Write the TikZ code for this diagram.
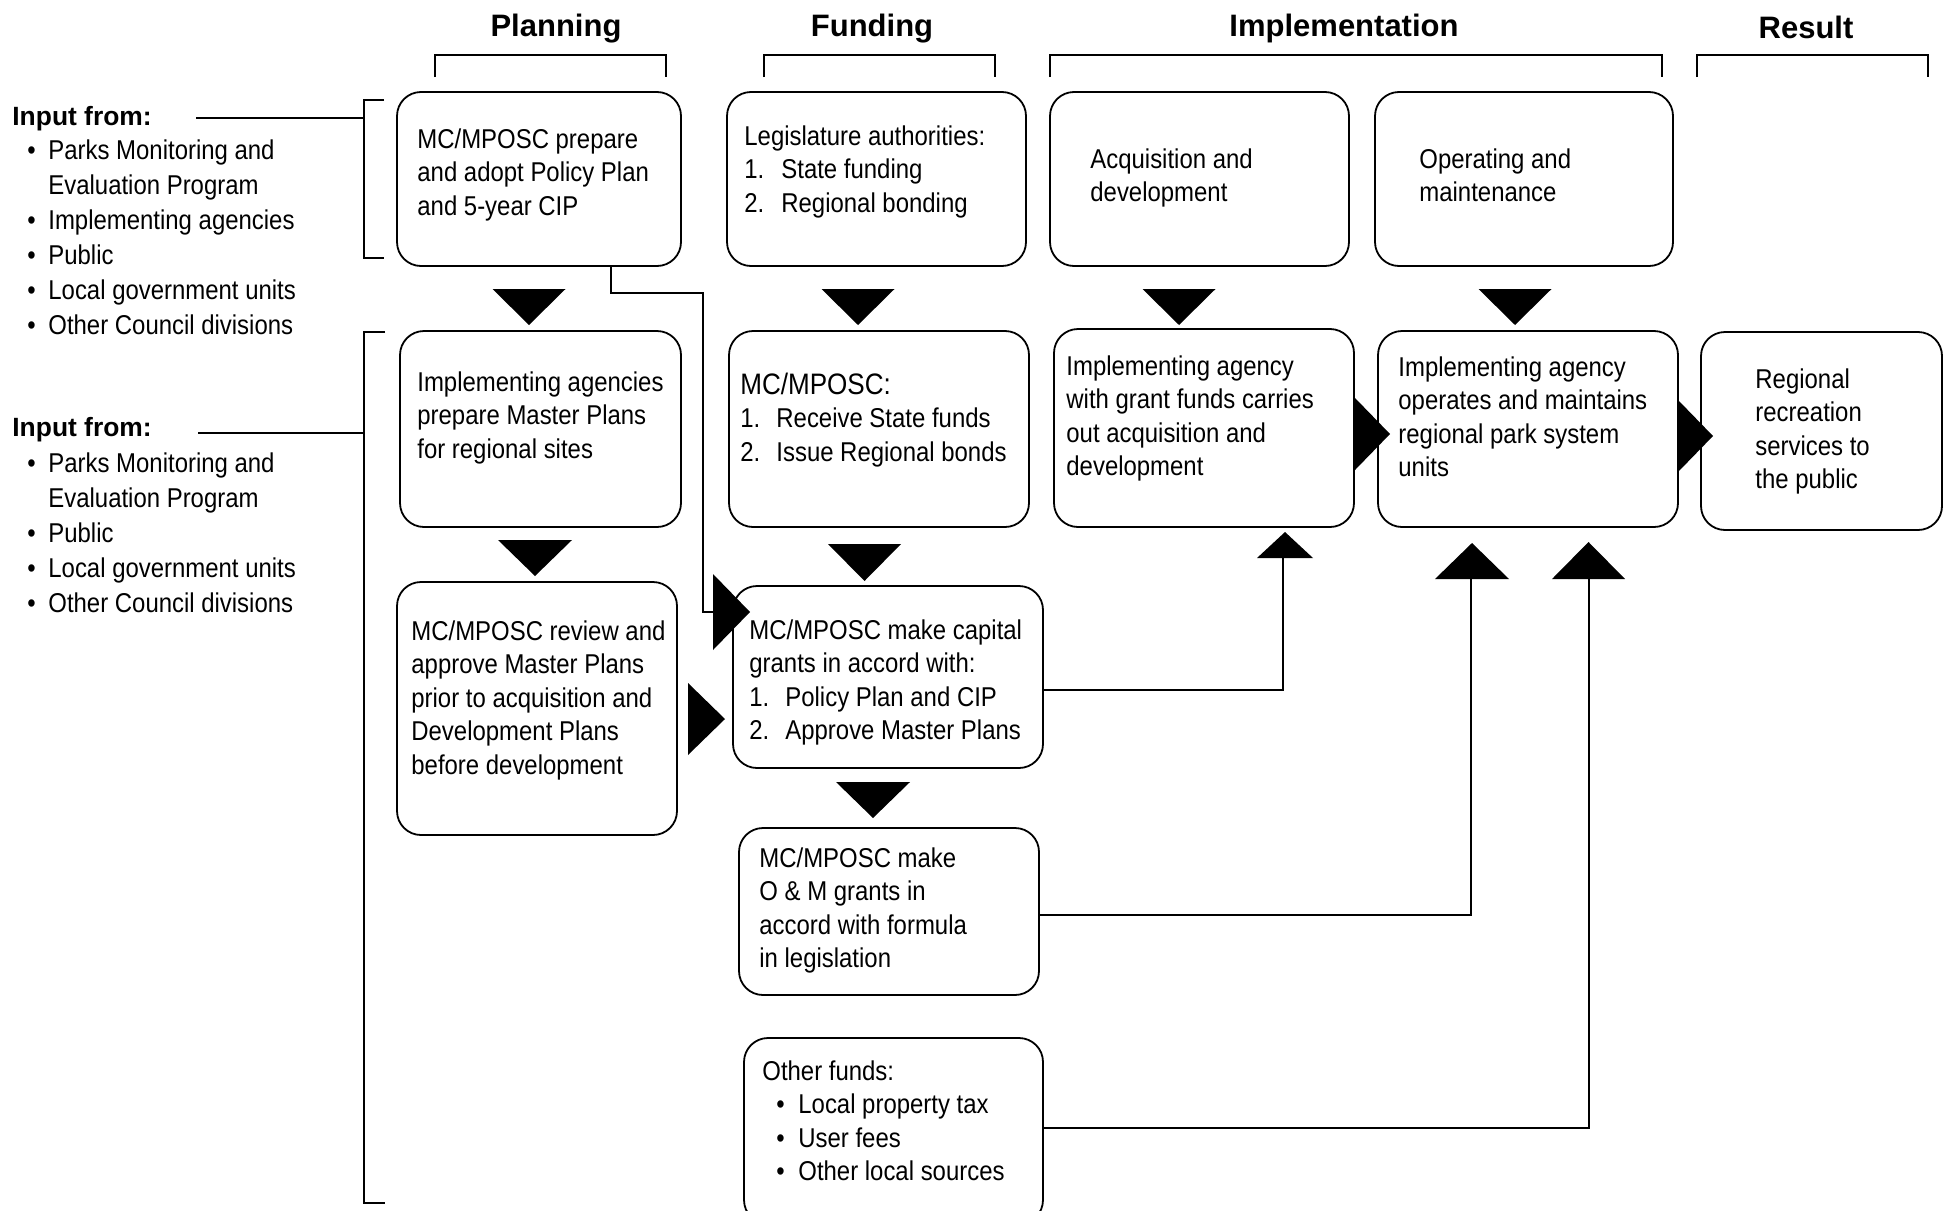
\documentclass[tikz,border=0pt]{standalone}
\usepackage{fontspec}
\setmainfont{Liberation Sans}[FakeStretch=0.88]
\newfontfamily\hfont{Liberation Sans}
\usetikzlibrary{calc,fit}
\begin{document}
\begin{tikzpicture}[x=0.5pt,y=-0.5pt,
  box/.style={draw, line width=0.9pt, rounded corners=12pt, inner sep=0pt},
  txt/.style={anchor=base west, inner sep=0pt, align=left, font=\fontsize{13.6pt}{16.8pt}\selectfont},
  lst/.style={anchor=base west, inner sep=0pt, align=left, font=\fontsize{13.6pt}{17.5pt}\selectfont},
  hd/.style={anchor=base, inner sep=0pt, font=\hfont\bfseries\fontsize{15.5pt}{18pt}\selectfont},
  inhd/.style={anchor=base west, inner sep=0pt, font=\hfont\bfseries\fontsize{13.2pt}{16pt}\selectfont},
  brk/.style={line width=1.3pt},
  con/.style={line width=1.4pt},
]
\clip (0,0) rectangle (1948,1210);

% headings
\node[hd] (hplan) at (556,36) {Planning};
\node[hd] (hfund) at (872,36) {Funding};
\node[hd] (himp) at (1344,36) {Implementation};
\node[hd] (hres) at (1806,38) {Result};

% top brackets
\draw[brk] (435,77) -- (435,55) -- (666,55) -- (666,77);
\draw[brk] (764,77) -- (764,55) -- (995,55) -- (995,77);
\draw[brk] (1050,77) -- (1050,55) -- (1662,55) -- (1662,77);
\draw[brk] (1697,77) -- (1697,55) -- (1928,55) -- (1928,77);

% left brackets
\draw[brk] (384,100) -- (364,100) -- (364,258) -- (384,258);
\draw[brk] (385,332) -- (364,332) -- (364,1203) -- (385,1203);

% input lists (multi-line nodes anchored at the baseline of their last line)
\node[inhd] (in1) at (12,125) {Input from:};
\coordinate (l1a) at (196,118);
\coordinate (l1b) at (364,118);
\draw[brk] (l1a) -- (l1b);
\node[lst] (list1) at (27,334) {\makebox[10.5pt][l]{•}Parks Monitoring and\\
\hspace*{10.5pt}Evaluation Program\\
\makebox[10.5pt][l]{•}Implementing agencies\\
\makebox[10.5pt][l]{•}Public\\
\makebox[10.5pt][l]{•}Local government units\\
\makebox[10.5pt][l]{•}Other Council divisions};

\node[inhd] (in2) at (12,436) {Input from:};
\coordinate (l2a) at (198,433);
\coordinate (l2b) at (364,433);
\draw[brk] (l2a) -- (l2b);
\node[lst] (list2) at (27,612) {\makebox[10.5pt][l]{•}Parks Monitoring and\\
\hspace*{10.5pt}Evaluation Program\\
\makebox[10.5pt][l]{•}Public\\
\makebox[10.5pt][l]{•}Local government units\\
\makebox[10.5pt][l]{•}Other Council divisions};

% boxes
\node[box, fit={(397,92)(681,266)}] (b1) {};
\node[box, fit={(727,92)(1026,266)}] (leg) {};
\node[box, fit={(1050,92)(1349,266)}] (acq) {};
\node[box, fit={(1375,92)(1673,266)}] (opm) {};
\node[box, fit={(400,331)(681,527)}] (b2) {};
\node[box, fit={(729,331)(1029,527)}] (rec) {};
\node[box, fit={(1054,329)(1354,527)}] (grant) {};
\node[box, fit={(1378,331)(1678,527)}] (oper) {};
\node[box, fit={(1701,332)(1942,530)}] (reg) {};
\node[box, fit={(397,582)(677,835)}] (rev) {};
\node[box, fit={(733,586)(1043,768)}] (cap) {};
\node[box, fit={(739,828)(1039,995)}] (om) {};
\node[box, fit={(744,1038)(1043,1224)}] (oth) {};

% box texts (anchored at the baseline of their last line)
\node[txt] (t1) at (417,215.2) {MC/MPOSC prepare\\and adopt Policy Plan\\and 5-year CIP};
\node[txt] (t2) at (744,212.2) {Legislature authorities:\\\makebox[18.5pt][l]{1.}State funding\\\makebox[18.5pt][l]{2.}Regional bonding};
\node[txt] (t3) at (1090,201.6) {Acquisition and\\development};
\node[txt] (t4) at (1419,201.6) {Operating and\\maintenance};
\node[txt] (t5) at (417,458.2) {Implementing agencies\\prepare Master Plans\\for regional sites};
\node[txt] (t6) at (740,461.2) {{\fontsize{14.8pt}{16.8pt}\selectfont MC/MPOSC:}\\\makebox[18pt][l]{1.}Receive State funds\\\makebox[18pt][l]{2.}Issue Regional bonds};
\node[txt] (t7) at (1066,475.8) {Implementing agency\\with grant funds carries\\out acquisition and\\development};
\node[txt] (t8) at (1398,476.8) {Implementing agency\\operates and maintains\\regional park system\\units};
\node[txt] (t9) at (1755,488.8) {Regional\\recreation\\services to\\the public};
\node[txt] (t10) at (411,774.4) {MC/MPOSC review and\\approve Master Plans\\prior to acquisition and\\Development Plans\\before development};
\node[txt] (t11) at (749,739.8) {MC/MPOSC make capital\\grants in accord with:\\\makebox[18pt][l]{1.}Policy Plan and CIP\\\makebox[18pt][l]{2.}Approve Master Plans};
\node[txt] (t12) at (759,967.8) {MC/MPOSC make\\O \& M grants in\\accord with formula\\in legislation};
\node[txt] (t13) at (762,1180.8) {Other funds:\\\hspace*{7pt}\makebox[11pt][l]{•}Local property tax\\\hspace*{7pt}\makebox[11pt][l]{•}User fees\\\hspace*{7pt}\makebox[11pt][l]{•}Other local sources};

% down triangles
\fill (492.5,289) -- (565.5,289) -- (529,325) -- cycle;
\fill (821.5,289) -- (894.5,289) -- (858,325) -- cycle;
\fill (1142.5,289) -- (1215.5,289) -- (1179,325) -- cycle;
\fill (1478.5,289) -- (1551.5,289) -- (1515,325) -- cycle;
\fill (498,540) -- (572,540) -- (535,576) -- cycle;
\fill (828,544) -- (901,544) -- (864.5,581) -- cycle;
\fill (836,782) -- (910,782) -- (873,818) -- cycle;
% right triangles
\fill (688,683) -- (688,755) -- (725,719) -- cycle;
\fill (1355,398) -- (1355,470) -- (1390,434) -- cycle;
\fill (1678,400) -- (1678,472) -- (1713,436) -- cycle;

% connector: policy plan -> capital grants
\coordinate (k1) at (611,293);
\coordinate (k2) at (703,293);
\coordinate (k3) at (703,612);
\coordinate (a1) at (713,612);
\draw[con] (b1.south -| k1) -- (k1) -- (k2) -- (k3) -- (a1);
\fill (a1) ++(0,-38) -- ++(0,76) -- (750,612) -- cycle;

% connector: capital grants -> grant funds box
\coordinate (k4) at (1283,690);
\coordinate (a2) at (1283,558);
\draw[con] (cap.east |- k4) -- (k4) -- (a2);
\fill (1257,558) -- (1313,558) -- (1285,532) -- cycle;

% connector: O&M grants -> operates box
\coordinate (k5) at (1471,915);
\coordinate (a3) at (1471,579);
\draw[con] (om.east |- k5) -- (k5) -- (a3);
\fill (1435,579) -- (1509,579) -- (1472,543) -- cycle;

% connector: other funds -> operates box
\coordinate (k6) at (1589,1128);
\coordinate (a4) at (1589,579);
\draw[con] (oth.east |- k6) -- (k6) -- (a4);
\fill (1552,579) -- (1625,579) -- (1588.5,542) -- cycle;
\end{tikzpicture}
\end{document}
